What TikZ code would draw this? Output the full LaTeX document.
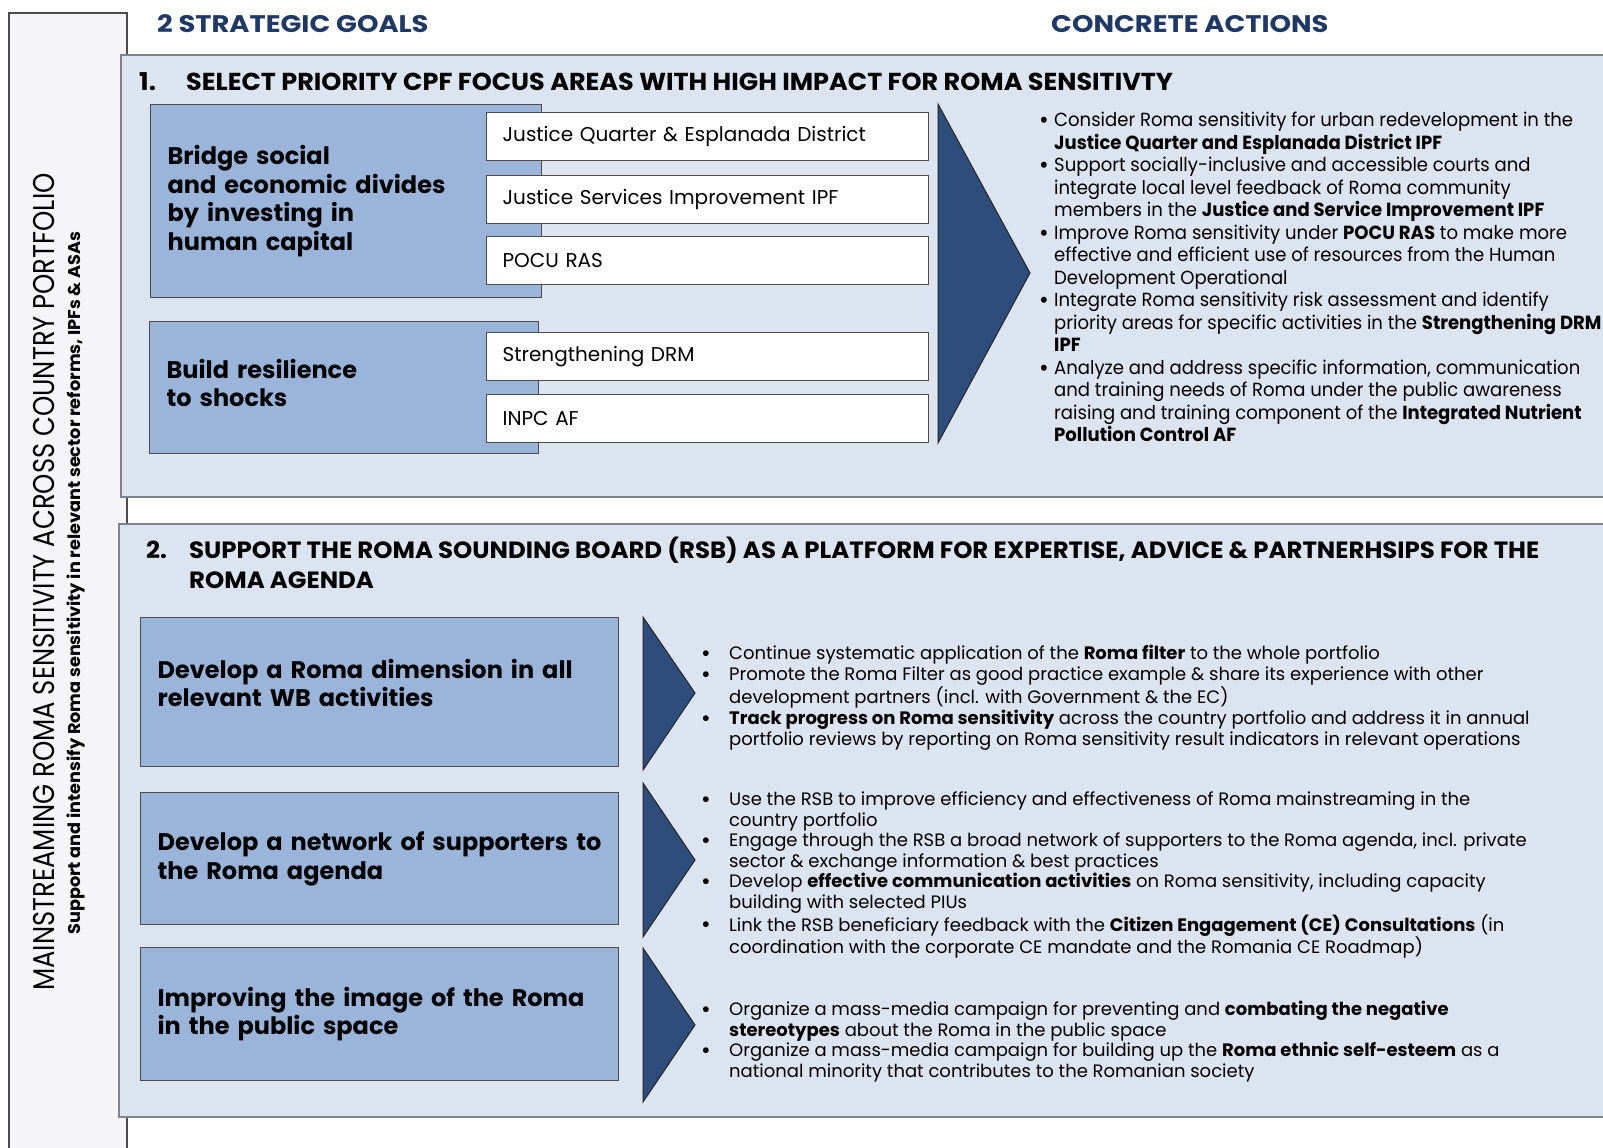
\documentclass[tikz,border=0pt]{standalone}
\usepackage{fontspec}
\usepackage{graphicx}
\setmainfont{Poppins}
\newfontfamily\narrow{Poppins}[FakeStretch=0.95]
\newfontfamily\sidefont{Poppins}[FakeStretch=0.86]
\newfontfamily\titlefont{Poppins}[FakeStretch=1.04]
\newfontfamily\headfont{Poppins}[FakeStretch=1.14]
\usepackage{tikz}
\usetikzlibrary{positioning,calc}

\definecolor{navy}{HTML}{1F3864}
\definecolor{sidefill}{HTML}{F5F5F7}
\definecolor{panelfill}{HTML}{DCE4F0}
\definecolor{goalfill}{HTML}{9BB4DA}
\definecolor{chevfill}{HTML}{2F4D7C}
\definecolor{edgegray}{HTML}{7E838C}

\tikzstyle{panel} = [draw=edgegray, line width=1.6pt, fill=panelfill]
\tikzstyle{goal} = [rectangle, anchor=north west, draw=black!70, line width=1.3pt,
fill=goalfill, inner xsep=17pt, align=left, font=\bfseries\fontsize{24}{28.7}\selectfont]
\tikzstyle{project} = [rectangle, anchor=north west, draw=black!70, line width=1.2pt,
fill=white, inner xsep=16pt, minimum width=442pt, minimum height=48pt, text width=410pt,
align=left, font=\fontsize{20}{24}\selectfont]
\tikzstyle{chevron} = [fill=chevfill, draw=black!85, line width=1pt]
\tikzstyle{bullets} = [anchor=north west, inner sep=0pt, align=left]
\tikzstyle{heading} = [anchor=west, inner sep=0pt, text=navy, font=\headfont\bfseries\fontsize{24}{28}\selectfont]
\tikzstyle{title} = [anchor=north west, inner sep=0pt, align=left, font=\titlefont\bfseries\fontsize{24}{30}\selectfont]

\newcommand{\bitem}[1]{\makebox[#1][l]{\raisebox{-0.1em}{\scalebox{1.3}{\textbullet}}}}
\newcommand{\bcont}[1]{\hspace*{#1}}

\begin{document}
\begin{tikzpicture}[x=1pt, y=-1pt]
\clip (0,0) rectangle (1603,1148);
\fill[white] (0,0) rectangle (1603,1148);

% side band with the overall aim
\draw[draw=black!70, line width=1.4pt, fill=sidefill] (9,13) rectangle (127,1170);
\node (main) at (44,582) [rotate=90, inner sep=0pt, font=\sidefont\fontsize{30}{34}\selectfont] {MAINSTREAMING ROMA SENSITIVITY ACROSS COUNTRY PORTFOLIO};
\node (sub) at (76,583) [rotate=90, inner sep=0pt, font=\titlefont\bfseries\fontsize{17}{20}\selectfont] {Support and intensify Roma sensitivity in relevant sector reforms, IPFs \& ASAs};

\node (h1) at (157,24) [heading] {2 STRATEGIC GOALS};
\node (h2) at (1051,24) [heading] {CONCRETE ACTIONS};

% goal 1
\draw[panel] (121,55) rectangle (1620,497);
\node (t1) at (139,72) [title, font=\titlefont\bfseries\fontsize{24.5}{30}\selectfont] {\makebox[47pt][l]{1.}SELECT PRIORITY CPF FOCUS AREAS WITH HIGH IMPACT FOR ROMA SENSITIVTY};

\node (g1) at (150,104) [goal, minimum width=391pt, minimum height=193pt, text width=357pt] {Bridge social\\and economic divides\\by investing in\\human capital};
\node (g2) at (149,321) [goal, minimum width=389pt, minimum height=132pt, text width=355pt] {Build resilience\\to shocks\\[-19pt]\mbox{}};

\node (p1) at (486,112) [project] {Justice Quarter \& Esplanada District};
\node (p2) at (486,175) [project] {Justice Services Improvement IPF};
\node (p3) at (486,236) [project] {POCU RAS};
\node (p4) at (486,332) [project] {Strengthening DRM};
\node (p5) at (486,394) [project] {INPC AF};

\draw[chevron] (938,104) -- (1030,273) -- (938,443) -- cycle;

\node (a1) at (1039,112) [bullets, font=\narrow\fontsize{19}{22.5}\selectfont] {%
\bitem{15pt}Consider Roma sensitivity for urban redevelopment in the\\
\bcont{15pt}\textbf{Justice Quarter and Esplanada District IPF}\\
\bitem{15pt}Support socially-inclusive and accessible courts and\\
\bcont{15pt}integrate local level feedback of Roma community\\
\bcont{15pt}members in the \textbf{Justice and Service Improvement IPF}\\
\bitem{15pt}Improve Roma sensitivity under \textbf{POCU RAS} to make more\\
\bcont{15pt}effective and efficient use of resources from the Human\\
\bcont{15pt}Development Operational\\
\bitem{15pt}Integrate Roma sensitivity risk assessment and identify\\
\bcont{15pt}priority areas for specific activities in the \textbf{Strengthening DRM}\\
\bcont{15pt}\textbf{IPF}\\
\bitem{15pt}Analyze and address specific information, communication\\
\bcont{15pt}and training needs of Roma under the public awareness\\
\bcont{15pt}raising and training component of the \textbf{Integrated Nutrient}\\
\bcont{15pt}\textbf{Pollution Control AF}};

% goal 2
\draw[panel] (119,524) rectangle (1620,1117);
\node (t2) at (146,537) [title, font=\titlefont\bfseries\fontsize{23.5}{30}\selectfont] {\makebox[43pt][l]{2.}SUPPORT THE ROMA SOUNDING BOARD (RSB) AS A PLATFORM FOR EXPERTISE, ADVICE \& PARTNERHSIPS FOR THE\\\hspace*{43pt}ROMA AGENDA};

\node (g3) at (140,617) [goal, minimum width=478pt, minimum height=149pt, text width=444pt] {Develop a Roma dimension in all\\relevant WB activities\\[-10pt]\mbox{}};
\node (g4) at (140,792) [goal, minimum width=478pt, minimum height=132pt, text width=444pt] {Develop a network of supporters to\\the Roma agenda};
\node (g5) at (140,947) [goal, minimum width=478pt, minimum height=133pt, text width=444pt] {Improving the image of the Roma\\in the public space};

\draw[chevron] (643,617) -- (695,693) -- (643,770) -- cycle;
\draw[chevron] (643,783) -- (695,860) -- (643,937) -- cycle;
\draw[chevron] (643,948) -- (695,1025) -- (643,1102) -- cycle;

\node (a2) at (701,645) [bullets, font=\fontsize{18}{21}\selectfont] {%
\bitem{28pt}Continue systematic application of the \textbf{Roma filter} to the whole portfolio\\
\bitem{28pt}Promote the Roma Filter as good practice example \& share its experience with other\\
\bcont{28pt}development partners (incl. with Government \& the EC)\\
\bitem{28pt}\textbf{Track progress on Roma sensitivity} across the country portfolio and address it in annual\\
\bcont{28pt}portfolio reviews by reporting on Roma sensitivity result indicators in relevant operations};

\node (a3) at (701,792) [bullets, font=\fontsize{18}{20.5}\selectfont] {%
\bitem{28pt}Use the RSB to improve efficiency and effectiveness of Roma mainstreaming in the\\
\bcont{28pt}country portfolio\\
\bitem{28pt}Engage through the RSB a broad network of supporters to the Roma agenda, incl. private\\
\bcont{28pt}sector \& exchange information \& best practices\\
\bitem{28pt}Develop \textbf{effective communication activities} on Roma sensitivity, including capacity\\
\bcont{28pt}building with selected PIUs\\
\bitem{28pt}Link the RSB beneficiary feedback with the \textbf{Citizen Engagement (CE) Consultations} (in\\
\bcont{28pt}coordination with the corporate CE mandate and the Romania CE Roadmap)};

\node (a4) at (701,1001) [bullets, font=\fontsize{18}{20.5}\selectfont] {%
\bitem{28pt}Organize a mass-media campaign for preventing and \textbf{combating the negative}\\
\bcont{28pt}\textbf{stereotypes} about the Roma in the public space\\
\bitem{28pt}Organize a mass-media campaign for building up the \textbf{Roma ethnic self-esteem} as a\\
\bcont{28pt}national minority that contributes to the Romanian society};
\end{tikzpicture}
\end{document}
